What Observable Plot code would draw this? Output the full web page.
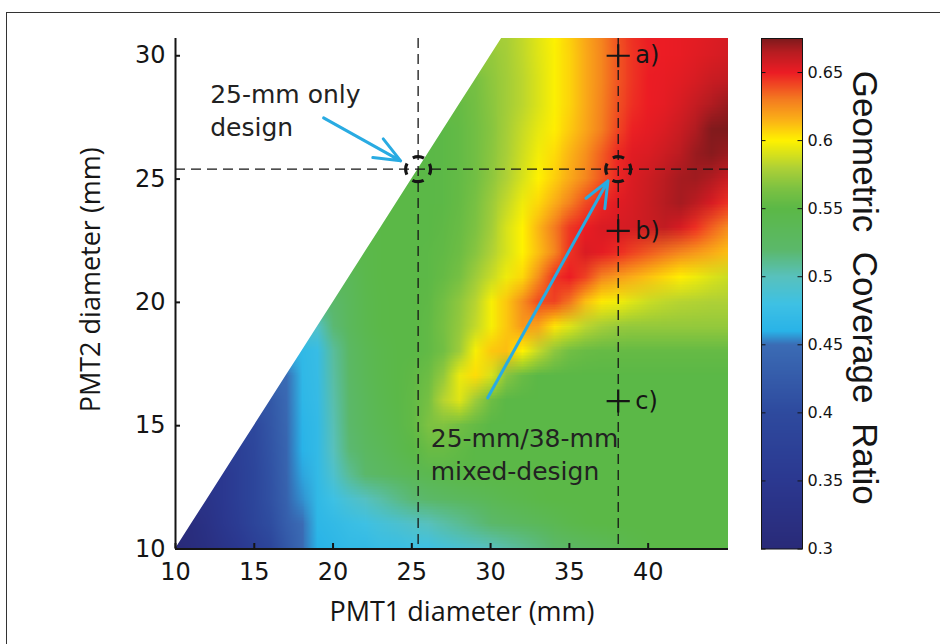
<!DOCTYPE html>
<html><head><meta charset="utf-8">
<script src="https://cdn.jsdelivr.net/npm/d3@7"></script>
<script src="https://cdn.jsdelivr.net/npm/@observablehq/plot@0.6"></script>
<style>
html,body{margin:0;padding:0;background:#fff;}
#wrap{position:relative;width:940px;height:644px;overflow:hidden;background:#fff;}
#wrap svg{position:absolute;top:0;}
#border{position:absolute;left:6px;top:12px;width:980px;height:700px;border-top:1.5px solid #333;border-left:1.5px solid #333;pointer-events:none;}
</style></head><body><div id="wrap"></div>
<script>
// ---------------- data ----------------
// PMT1 diameter grid (mm), x
const pmt1 = [10,11,12,13,14,15,16,17,18,19,20,21,22,23,24,25,26,27,28,29,30,31,32,33,34,35,36,37,38,39,40,41,42,43,44,45];
// PMT2 diameter grid (mm), y
const pmt2 = [10,11,12,13,14,15,16,17,18,19,20,21,22,23,24,25,26,27,28,29,30,31];
// Geometric coverage ratio, one row per PMT2 value, from PMT1 = PMT2 up to PMT1 = 45
const ratioRows = [
  [0.300,0.310,0.320,0.335,0.350,0.370,0.390,0.420,0.445,0.460,0.465,0.470,0.470,0.475,0.475,0.480,0.480,0.485,0.490,0.495,0.500,0.505,0.510,0.515,0.520,0.525,0.530,0.535,0.540,0.545,0.548,0.550,0.550,0.550,0.550,0.550],
  [0.315,0.330,0.345,0.365,0.385,0.405,0.430,0.450,0.465,0.470,0.475,0.480,0.485,0.490,0.495,0.500,0.505,0.510,0.515,0.520,0.525,0.530,0.535,0.540,0.545,0.548,0.550,0.550,0.550,0.550,0.550,0.550,0.550,0.550,0.550],
  [0.335,0.350,0.370,0.390,0.410,0.435,0.455,0.468,0.480,0.490,0.498,0.505,0.512,0.518,0.522,0.526,0.530,0.534,0.538,0.542,0.545,0.548,0.550,0.550,0.550,0.550,0.550,0.550,0.550,0.550,0.550,0.550,0.550,0.550],
  [0.350,0.370,0.390,0.412,0.438,0.458,0.470,0.492,0.510,0.520,0.527,0.533,0.538,0.542,0.546,0.549,0.550,0.550,0.550,0.550,0.550,0.550,0.550,0.550,0.550,0.550,0.550,0.550,0.550,0.550,0.550,0.550,0.550],
  [0.372,0.392,0.415,0.440,0.460,0.470,0.500,0.518,0.528,0.535,0.542,0.550,0.556,0.556,0.553,0.550,0.550,0.550,0.550,0.550,0.550,0.550,0.550,0.550,0.550,0.550,0.550,0.550,0.550,0.550,0.550,0.550],
  [0.395,0.418,0.442,0.462,0.470,0.502,0.520,0.532,0.540,0.546,0.553,0.565,0.566,0.560,0.555,0.550,0.550,0.550,0.550,0.550,0.550,0.550,0.550,0.550,0.550,0.550,0.550,0.550,0.550,0.550,0.550],
  [0.420,0.445,0.465,0.472,0.504,0.522,0.534,0.542,0.548,0.553,0.562,0.582,0.592,0.575,0.558,0.550,0.550,0.550,0.550,0.550,0.550,0.550,0.550,0.550,0.550,0.550,0.550,0.550,0.550,0.550],
  [0.448,0.467,0.473,0.506,0.524,0.536,0.544,0.549,0.552,0.558,0.572,0.595,0.605,0.590,0.568,0.556,0.550,0.550,0.550,0.550,0.550,0.550,0.550,0.550,0.550,0.550,0.550,0.550,0.550],
  [0.468,0.474,0.508,0.526,0.538,0.545,0.549,0.550,0.553,0.560,0.575,0.598,0.610,0.612,0.600,0.585,0.570,0.560,0.556,0.555,0.555,0.555,0.555,0.555,0.555,0.555,0.555,0.555],
  [0.495,0.518,0.532,0.542,0.548,0.550,0.550,0.553,0.562,0.572,0.585,0.598,0.610,0.622,0.618,0.603,0.592,0.583,0.577,0.573,0.572,0.572,0.572,0.572,0.572,0.572,0.572],
  [0.520,0.533,0.543,0.548,0.550,0.550,0.552,0.560,0.570,0.582,0.598,0.610,0.625,0.640,0.642,0.632,0.612,0.602,0.597,0.592,0.587,0.584,0.582,0.581,0.580,0.580],
  [0.535,0.545,0.549,0.550,0.550,0.551,0.555,0.562,0.575,0.586,0.596,0.606,0.625,0.645,0.650,0.642,0.628,0.621,0.616,0.611,0.606,0.601,0.596,0.591,0.587],
  [0.546,0.549,0.550,0.550,0.551,0.553,0.558,0.568,0.580,0.590,0.600,0.612,0.627,0.645,0.655,0.652,0.647,0.642,0.637,0.632,0.627,0.622,0.617,0.612],
  [0.549,0.550,0.550,0.550,0.552,0.556,0.565,0.576,0.590,0.600,0.614,0.630,0.644,0.650,0.655,0.656,0.657,0.660,0.662,0.656,0.646,0.636,0.626],
  [0.550,0.550,0.550,0.551,0.555,0.563,0.574,0.585,0.596,0.606,0.616,0.628,0.640,0.648,0.653,0.656,0.660,0.665,0.668,0.664,0.656,0.646],
  [0.550,0.550,0.551,0.554,0.560,0.570,0.580,0.590,0.600,0.608,0.617,0.627,0.638,0.648,0.655,0.659,0.664,0.668,0.669,0.666,0.660],
  [0.550,0.551,0.554,0.560,0.569,0.578,0.588,0.597,0.605,0.614,0.624,0.636,0.647,0.653,0.655,0.659,0.664,0.670,0.673,0.670],
  [0.551,0.554,0.560,0.568,0.577,0.586,0.594,0.601,0.609,0.618,0.629,0.641,0.649,0.652,0.655,0.660,0.666,0.674,0.676],
  [0.555,0.561,0.569,0.576,0.583,0.591,0.599,0.607,0.617,0.628,0.639,0.646,0.650,0.652,0.656,0.661,0.666,0.670],
  [0.562,0.570,0.576,0.583,0.591,0.599,0.607,0.617,0.627,0.638,0.645,0.650,0.651,0.653,0.656,0.660,0.662],
  [0.572,0.577,0.584,0.592,0.599,0.607,0.617,0.627,0.638,0.645,0.649,0.650,0.651,0.653,0.655,0.657],
  [0.578,0.585,0.593,0.600,0.608,0.618,0.628,0.639,0.646,0.650,0.650,0.651,0.652,0.654,0.656]
];
const xTicks = [10,15,20,25,30,35,40];
const yTicks = [10,15,20,25,30];
const colorbarTicks = [0.3,0.35,0.4,0.45,0.5,0.55,0.6,0.65];
const guideX = [25.4, 38.1];
const guideY = [25.4];
const designPoints = [{x: 25.4, y: 25.4}, {x: 38.1, y: 25.4}];
const cases = [{x: 38.1, y: 30, label: "a)"}, {x: 38.1, y: 22.9, label: "b)"}, {x: 38.1, y: 16, label: "c)"}];
const notes = [{x: 12.2, y: 27.85, text: "25-mm only\ndesign"}, {x: 26.2, y: 13.9, text: "25-mm/38-mm\nmixed-design"}];
const arrows = [{x1: 19.4, y1: 27.48, x2: 24.29, y2: 25.74}, {x1: 29.82, y1: 16.13, x2: 37.45, y2: 24.93}];

// ---------------- styles ----------------
const xDomain = [10, 45.1];
const yDomain = [10, 30.7];
const cDomain = [0.3, 0.675];
const colorOpts = {
  type: "linear",
  domain: [0.30,0.35,0.40,0.45,0.46,0.48,0.50,0.52,0.55,0.565,0.58,0.60,0.615,0.63,0.65,0.665,0.675],
  range: ["#292a78","#2b3890","#2e4a9e","#3b6cb5","#29b3e8","#3ec1e4","#58c1bd","#5bb86a","#5bb847","#7dc242","#afd136","#fff200","#fbb117","#f47c20","#ec1c24","#b71c21","#7d1a1c"],
  interpolate: "rgb",
  clamp: true
};

// dense grid (hidden cells left of the PMT1 = PMT2 edge repeat the edge value)
const W = pmt1.length, H = pmt2.length;
const grid = [];
pmt2.forEach((y, j) => {
  const row = ratioRows[j];
  const start = W - row.length;
  for (let i = 0; i < W; i++) grid.push(row[Math.max(0, i - start)]);
});

const ink = "#151515";
const main = Plot.plot({
  width: 940, height: 644,
  marginLeft: 175, marginRight: 212, marginTop: 38, marginBottom: 95.5,
  x: {domain: xDomain, label: null},
  y: {domain: yDomain, label: null},
  color: colorOpts,
  style: {fontFamily: "DejaVu Sans", color: ink, background: "transparent", overflow: "visible"},
  marks: [
    Plot.raster(grid, {width: W, height: H, x1: pmt1[0] - 0.5, x2: pmt1[W - 1] + 0.5, y1: pmt2[0] - 0.5, y2: pmt2[H - 1] + 0.5, fill: Plot.identity, clip: true}),
    Plot.areaY(pmt2, {x: d => d, y1: d => d, y2: pmt2[H - 1] + 1, fill: "white", clip: true}),
    Plot.ruleX(guideX, {stroke: ink, strokeWidth: 1.3, strokeDasharray: "10,6"}),
    Plot.ruleY(guideY, {stroke: ink, strokeWidth: 1.3, strokeDasharray: "10,6"}),
    Plot.arrow(arrows, {x1: "x1", y1: "y1", x2: "x2", y2: "y2", stroke: "#29abe2", strokeWidth: 3, headLength: 14, headAngle: 45}),
    Plot.dot(designPoints, {x: "x", y: "y", r: 12.5, fill: "none", stroke: ink, strokeWidth: 3.2, strokeDasharray: "11.6,8", strokeDashoffset: 5.8}),
    Plot.dot(cases, {x: "x", y: "y", symbol: "plus", r: 7.5, stroke: ink, strokeWidth: 2.2}),
    Plot.text(cases, {x: "x", y: "y", text: "label", dx: 17, textAnchor: "start", fontSize: 24, fill: ink}),
    Plot.text(notes, {x: "x", y: "y", text: "text", textAnchor: "start", fontSize: 25, lineHeight: 1.34, fill: "#222"}),
    Plot.ruleX([xDomain[0]], {stroke: ink, strokeWidth: 2}),
    Plot.ruleY([yDomain[0]], {stroke: ink, strokeWidth: 2}),
    Plot.tickX(xTicks, {x: d => d, insetTop: 505, stroke: ink, strokeWidth: 2}),
    Plot.tickY(yTicks, {y: d => d, insetRight: 548, stroke: ink, strokeWidth: 2}),
    Plot.axisX(xTicks, {tickSize: 0, tickPadding: 14, fontSize: 24, label: null}),
    Plot.axisY(yTicks, {tickSize: 0, tickPadding: 10, fontSize: 24, label: null}),
    Plot.text(["PMT1 diameter (mm)"], {frameAnchor: "bottom", textAnchor: "middle", dy: 72, dx: 10, fontSize: 27, fontFamily: "Open Sans", fill: ink}),
    Plot.text(["PMT2 diameter (mm)"], {frameAnchor: "left", textAnchor: "middle", rotate: -90, dx: -84, dy: -14, fontSize: 27, fontFamily: "Open Sans", fill: ink})
  ]
});
main.style.left = "0px";

const cbar = Plot.plot({
  width: 200, height: 644,
  marginLeft: 21, marginRight: 138, marginTop: 38, marginBottom: 95.5,
  x: {domain: [0, 1], axis: null},
  y: {domain: cDomain, axis: null},
  color: colorOpts,
  style: {fontFamily: "DejaVu Sans", color: ink, background: "transparent", overflow: "visible"},
  marks: [
    Plot.raster({fill: (x, y) => y, x1: 0, x2: 1, y1: cDomain[0], y2: cDomain[1], width: 2, height: 400}),
    Plot.frame({stroke: ink, strokeWidth: 1}),
    Plot.tickY(colorbarTicks, {y: d => d, insetRight: 36.5, stroke: ink, strokeWidth: 1}),
    Plot.tickY(colorbarTicks, {y: d => d, insetLeft: 36.5, stroke: ink, strokeWidth: 1}),
    Plot.axisY(colorbarTicks, {anchor: "right", tickSize: 0, tickPadding: 5, fontSize: 16, tickFormat: d => String(d), label: null}),
    Plot.text(["Geometric\u00a0 Coverage\u00a0 Ratio"], {frameAnchor: "right", textAnchor: "middle", rotate: 90, dx: 62, dy: -6, fontSize: 35, fontFamily: "Liberation Sans", fill: ink})
  ]
});
cbar.style.left = "740px";

const wrap = document.getElementById("wrap");
wrap.appendChild(main);
wrap.appendChild(cbar);
const border = document.createElement("div");
border.id = "border";
wrap.appendChild(border);
</script>
</body></html>
